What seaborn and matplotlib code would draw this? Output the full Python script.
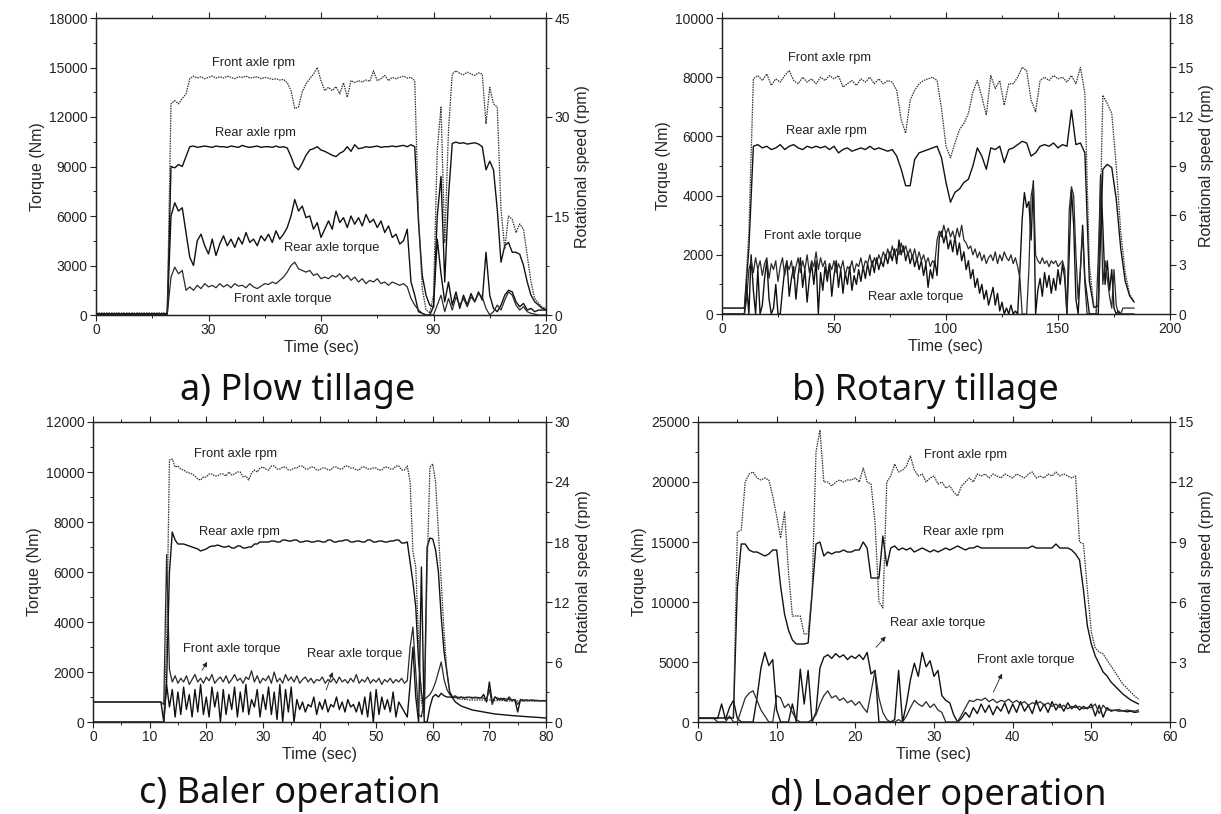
import numpy as np
import matplotlib
matplotlib.use("Agg")
import matplotlib.pyplot as plt
from matplotlib.ticker import MultipleLocator
import seaborn as sns

# ---------------- Panel a: Plow tillage (1 s grid, 0-120 s) ----------------
a_front_rpm = [0.3]*20 + [
    32.0,32.5,32.0,32.8,33.5,35.8,36.2,35.9,36.1,35.8,
    36.0,36.2,35.9,36.1,35.9,36.2,36.0,35.8,36.1,36.0,
    36.2,35.9,36.0,36.1,35.8,36.0,35.9,35.7,35.8,35.6,
    35.7,35.2,34.0,31.3,31.5,33.8,35.0,35.8,36.5,37.5,
    35.5,34.0,34.5,34.0,34.6,33.5,35.2,33.0,35.5,35.2,
    35.5,35.3,35.6,35.4,37.0,35.5,35.8,36.3,35.5,36.0,
    35.8,36.0,36.2,35.9,36.0,35.5,15.0,4.0,0.8,0.3,
    3.0,25.0,31.5,11.0,28.0,36.5,37.0,36.6,36.4,36.8,
    36.5,36.3,36.7,36.5,29.0,34.5,32.0,31.5,16.0,10.0,
    15.0,14.5,12.5,13.8,13.0,9.0,5.0,2.5,1.8,1.2,
    1.0]
a_rear_rpm = [0.2]*20 + [
    22.5,22.3,22.8,22.5,24.0,25.5,25.6,25.4,25.5,25.6,
    25.5,25.4,25.6,25.5,25.5,25.4,25.6,25.5,25.4,25.7,
    25.5,25.4,25.5,25.6,25.4,25.5,25.5,25.4,25.6,25.4,
    25.5,25.3,24.0,22.5,22.0,23.0,24.2,25.0,25.2,25.5,
    25.0,24.8,24.5,24.2,24.0,24.5,24.8,25.5,24.8,25.8,
    25.2,25.3,25.5,25.4,25.5,25.6,25.4,25.5,25.5,25.6,
    25.5,25.6,25.7,25.5,25.8,25.5,14.0,6.0,3.0,1.5,
    1.2,15.0,21.0,5.0,18.0,26.0,26.2,26.0,26.1,25.9,
    26.0,26.1,25.9,25.5,22.0,23.3,22.0,16.0,8.0,10.5,
    11.0,9.5,9.5,9.2,7.5,5.0,3.0,2.0,1.5,1.0,
    0.8]
a_rear_torque = [50]*20 + [
    6000,6800,6300,6500,5000,3500,3000,4500,4900,4200,
    3700,4600,3600,4300,4800,4200,4600,4100,4700,4300,
    5000,4400,4600,4200,4800,4500,4900,4400,5100,4600,
    4900,5300,6000,7000,6300,6600,5900,6000,5200,5600,
    4700,5200,5700,5200,6300,5600,5900,5300,6000,5500,
    5900,5400,6100,5600,5800,5300,5700,5000,5400,4700,
    4900,4300,4500,5200,2000,1200,200,100,0,0,
    500,4600,2500,800,2000,600,1400,400,1200,600,
    1300,800,1400,900,3800,1200,400,200,600,1200,
    1500,1400,800,500,700,300,400,200,300,300,
    300]
a_front_torque = [50]*20 + [
    2300,2900,2500,2700,1500,1700,1500,1800,1600,1900,
    1700,1800,1650,1900,1700,1850,1650,1900,1750,1800,
    1650,1900,1700,1600,1750,1900,1850,2000,1900,2100,
    2300,2600,3000,3200,2800,2700,2600,2700,2400,2500,
    2200,2300,2200,2400,2300,2500,2200,2400,2100,2300,
    2000,2200,1900,2100,2000,2200,1900,2000,1800,2000,
    1900,1800,1900,1700,1000,600,300,100,0,0,
    0,600,1200,200,1000,300,1100,600,1000,500,
    1100,800,1300,1100,400,0,200,600,300,900,
    1400,1200,600,300,500,200,100,50,0,0,
    0]

# ---------------- Panel b: Rotary tillage ----------------
# rpm on a 2 s grid (0-184 s), torque on a 1 s grid (0-184 s)
b_front_rpm = [
    0.36,0.36,0.36,0.36,0.36,0.36,5.0,14.3,14.5,14.2,
    14.6,13.9,14.3,14.1,14.5,14.8,14.2,14.0,14.4,14.1,
    14.3,14.0,14.4,14.2,14.5,14.3,14.5,13.8,14.0,14.2,
    13.9,14.3,14.1,14.4,14.0,14.3,14.0,14.2,14.1,13.6,
    11.8,11.0,13.0,13.6,14.0,14.2,14.3,14.4,14.2,12.5,
    10.2,9.5,10.4,11.2,11.6,12.2,13.5,14.2,13.2,12.1,
    14.5,13.7,14.2,12.7,14.0,14.0,14.4,15.0,14.8,13.0,
    12.3,14.2,14.4,14.2,14.5,14.3,14.4,14.1,14.5,14.0,
    15.0,13.4,3.0,0.4,0.5,13.3,12.8,12.2,9.0,5.0,
    2.5,1.2,0.75]
b_rear_rpm = [
    0.36,0.36,0.36,0.36,0.36,0.36,4.0,10.2,10.3,10.1,
    10.2,10.0,10.1,10.3,10.0,10.2,10.3,10.1,10.0,10.2,
    10.1,10.2,10.1,10.2,10.0,10.2,9.8,10.0,10.1,9.9,
    10.0,10.1,10.0,10.2,10.0,10.1,10.0,9.9,10.0,9.6,
    8.8,7.8,7.8,9.4,9.8,9.9,10.0,10.1,10.2,9.5,
    8.0,6.8,7.4,7.6,8.0,8.2,9.0,10.1,9.6,8.8,
    10.1,10.0,10.2,9.2,10.0,10.1,10.3,10.5,10.4,9.6,
    9.8,10.2,10.3,10.2,10.4,10.1,10.3,10.2,12.4,10.3,
    10.4,9.8,2.0,0.4,0.5,8.8,9.1,8.9,7.0,4.0,
    2.0,1.1,0.72]
b_rear_torque = [0]*10 + [
    0,1000,0,2000,800,0,1500,0,300,1200,
    1800,500,0,200,1000,0,0,800,1500,1800,
    600,1200,1600,500,1300,1900,900,1500,400,1200,
    1700,1000,1800,0,1400,800,1600,1100,1700,600,
    1300,1800,900,1500,700,1400,1000,1600,800,1300,
    1000,1500,1100,1600,1200,1700,1300,1800,1400,1900,
    1500,1800,1600,2000,1700,2100,1800,2200,1700,2500,
    2000,2300,1800,2100,1700,2000,1600,1900,1500,1800,
    1300,1700,900,1500,1200,1800,1300,2600,2800,2400,
    2700,2200,2500,2100,2600,2000,2400,1800,2100,1500,
    1800,1200,1500,900,1200,700,1000,500,800,300,
    600,900,300,700,100,400,0,200,0,300,
    0,100,0,1500,3200,4100,3600,3800,2500,4500,
    0,800,1200,600,1400,900,1300,700,1200,800,
    1500,1000,1700,1200,0,2000,4200,3000,500,0,
    1500,3000,1200,600,0,0,0,0,0,4700,
    3000,1000,1800,800,1500,200,0,100,0,0,
    0,0,0,0,0]
b_front_torque = [0]*10 + [
    0,500,1500,1800,1400,1900,1500,1800,1300,1700,
    1900,1200,1700,1500,1800,1100,1600,1900,1300,1700,
    1500,1800,1200,1600,1900,1400,1800,1500,2000,1400,
    1800,1600,2100,1500,1900,1600,1800,1300,1700,1500,
    1800,1400,1700,1500,1800,1300,1600,1500,1800,1400,
    1700,1600,1900,1500,1800,1700,2000,1600,1900,1700,
    2000,1800,2100,1900,2200,1900,2300,2000,2200,2000,
    2400,2100,2300,2000,2200,1900,2200,1800,2100,1800,
    2000,1700,1900,1600,1800,1700,2500,2800,2600,3000,
    2700,2900,2600,2800,2500,2900,2600,3000,2500,2400,
    2200,2300,2000,2200,1900,2100,1800,2000,1700,1900,
    2000,1800,2100,1700,2000,1800,2100,1900,1800,2000,
    1700,1900,1600,1200,0,0,0,1500,4000,4400,
    2000,1800,1700,1900,1700,1800,1600,1800,1700,1800,
    1600,1700,1800,1500,0,3500,4300,4000,2000,500,
    1500,2800,1000,0,0,0,0,0,2000,4500,
    1000,1800,1200,600,200,1500,300,0,0,200,
    200,200,200,200,200]

# ---------------- Panel c: Baler operation (0.5 s grid, 0-80 s) ----------------
c_front_rpm = [0]*26 + [
    8.0,26.2,26.3,25.5,
    25.6,25.3,25.2,25.0,24.9,24.8,24.6,24.3,24.2,24.5,
    24.5,24.8,24.8,24.6,24.6,24.8,24.8,24.6,25.0,24.7,
    24.8,25.0,25.0,24.5,24.6,24.2,24.9,25.2,25.0,25.4,
    25.5,25.3,25.2,25.6,25.6,25.3,25.3,25.5,25.5,25.2,
    25.2,25.4,25.4,25.6,25.6,25.3,25.3,25.5,25.5,25.2,
    25.2,25.4,25.4,25.2,25.2,25.5,25.5,25.3,25.3,25.6,
    25.6,25.4,25.4,25.2,25.2,25.5,25.5,25.3,25.3,25.4,
    25.4,25.2,25.2,25.5,25.5,25.3,25.3,25.6,25.6,25.2,
    25.2,25.6,24.0,17.0,15.5,8.0,2.0,0.5,15.0,25.5,
    25.8,24.0,19.0,14.0,9.0,5.0,3.0,2.6,2.4,2.3,
    2.3,2.25,2.25,2.2,2.2,2.2,2.2,2.2,2.2,2.2,
    2.2,2.15,2.15,2.15,2.15,2.15,2.1,2.1,2.1,2.1,
    2.1,2.1,2.1,2.1,2.1,2.1,2.1,2.1,2.1,2.1,
    2.1]
c_rear_rpm = [0]*26 + [
    4.0,15.0,19.0,18.2,
    17.8,17.8,17.8,17.7,17.6,17.5,17.4,17.3,17.1,17.2,
    17.3,17.5,17.6,17.6,17.7,17.6,17.5,17.5,17.6,17.4,
    17.4,17.6,17.6,17.4,17.4,17.5,17.5,17.8,17.8,18.0,
    18.0,18.0,18.0,18.1,18.1,18.0,18.0,18.2,18.2,18.1,
    18.1,18.2,18.2,18.0,18.0,18.1,18.1,18.0,18.0,18.1,
    18.1,18.0,18.0,18.2,18.2,18.0,18.0,18.1,18.1,18.2,
    18.2,18.0,18.0,18.1,18.1,18.0,18.0,18.2,18.2,18.0,
    18.0,18.1,18.1,18.0,18.0,18.1,18.1,18.2,18.2,17.9,
    17.9,18.0,16.0,14.0,11.5,6.0,3.0,1.0,17.5,18.4,
    18.3,17.2,15.0,10.5,7.0,5.0,3.0,2.4,2.0,1.8,
    1.6,1.5,1.4,1.3,1.2,1.15,1.1,1.05,1.0,0.95,
    0.9,0.85,0.8,0.78,0.75,0.72,0.7,0.67,0.64,0.62,
    0.6,0.58,0.56,0.54,0.52,0.5,0.48,0.46,0.44,0.42,
    0.4]
c_front_torque = [800]*25 + [
    700,6700,2100,1600,1850,
    1550,1750,1600,1850,1500,1700,1900,1600,1750,1550,
    1800,1650,1900,1550,1700,1800,1600,1850,1550,1700,
    1900,1650,1750,1550,1800,1700,2050,1600,1850,1550,
    1750,1650,1850,1550,2000,1600,1750,1550,1900,1650,
    1800,1600,1850,1550,1700,1800,1600,1750,1550,1700,
    1650,1800,1550,1700,1600,1750,1550,1800,1600,1700,
    1550,1750,1600,1900,1550,1700,1600,1800,1550,1700,
    1600,1750,1500,1700,1600,1750,1550,1700,1600,1750,
    1550,1650,3000,3800,2000,300,200,900,1000,1100,
    1300,1600,2000,2400,1700,1300,1100,1000,1050,950,
    1000,950,1000,980,950,1000,950,980,950,900,
    1300,700,1000,950,900,950,920,900,880,900,
    700,900,880,870,860,880,870,860,850,860,
    850]
c_rear_torque = [800]*25 + [
    0,1500,600,1300,200,
    1200,300,1400,500,1100,200,1300,400,1500,300,
    1000,200,1400,600,1200,0,1300,300,1100,500,
    1400,200,1200,400,1500,300,900,600,1300,200,
    1100,500,1400,300,1200,100,1500,0,1300,400,
    1400,0,900,500,800,400,700,600,1000,300,
    800,500,900,400,700,600,1000,500,800,400,
    900,600,700,400,800,300,1000,200,1200,0,
    1300,300,1000,500,900,400,1200,200,800,600,
    400,200,1500,3000,1000,0,6200,0,0,600,
    1000,1100,1000,1150,1050,1000,1000,980,1000,980,
    990,980,970,990,980,970,980,960,1100,800,
    1600,800,1000,900,950,900,850,1000,850,900,
    400,900,850,880,860,870,850,860,850,850,
    850]

# ---------------- Panel d: Loader operation (0.5 s grid, 0-56 s) ----------------
d_front_rpm = [0.2]*10 + [
    9.5,9.6,12.0,12.4,12.5,12.2,12.1,12.2,12.1,11.3,
    10.3,9.2,10.5,7.5,5.3,5.3,5.3,4.4,4.4,6.5,
    13.5,14.6,12.0,12.0,11.8,12.0,12.1,12.0,12.1,12.1,
    12.2,12.0,12.7,12.0,11.9,10.0,6.0,5.7,12.0,12.3,
    12.9,12.5,12.6,12.8,13.3,12.6,12.3,12.4,12.0,12.2,
    12.3,11.9,12.0,11.7,11.8,11.5,11.3,11.8,12.0,12.2,
    12.0,12.4,12.3,12.4,12.2,12.4,12.3,12.2,12.4,12.3,
    12.2,12.4,12.3,12.2,12.4,12.5,12.2,12.3,12.2,12.4,
    12.3,12.5,12.3,12.4,12.3,12.2,12.3,9.0,8.9,6.6,
    4.5,3.7,3.5,3.4,3.1,2.8,2.5,2.2,1.9,1.7,
    1.5,1.3,1.15]
d_rear_rpm = [0.2]*10 + [
    6.7,8.9,8.9,8.6,8.5,8.5,8.4,8.3,8.4,8.6,
    8.6,6.8,5.4,4.6,4.1,3.9,3.9,3.9,3.95,6.4,
    8.9,9.0,8.3,8.5,8.4,8.5,8.5,8.6,8.5,8.5,
    8.6,8.6,9.0,8.7,7.2,7.2,7.2,9.3,7.8,8.7,
    8.8,8.6,8.7,8.6,8.7,8.5,8.6,8.7,8.6,8.5,
    8.6,8.5,8.6,8.7,8.6,8.7,8.8,8.7,8.6,8.7,
    8.7,8.8,8.7,8.7,8.7,8.7,8.7,8.7,8.7,8.7,
    8.7,8.7,8.7,8.7,8.7,8.8,8.7,8.7,8.7,8.7,
    8.7,8.9,8.7,8.7,8.7,8.6,8.4,8.1,6.6,4.8,
    3.9,3.3,2.9,2.5,2.3,2.0,1.8,1.6,1.4,1.25,
    1.1,1.0,0.9]
d_rear_torque = [
    300,300,300,300,300,300,1500,200,1200,1800,
    300,0,0,0,0,2000,4500,5800,4700,5200,
    1000,0,0,0,1500,0,4400,1500,4300,0,
    800,4500,5400,5600,5300,5700,5400,5600,5200,5500,
    5300,5600,5200,5800,4000,4300,0,0,0,0,
    200,4300,0,1500,3500,4900,3800,5800,4600,5100,
    3800,4300,2200,1800,1600,600,0,300,800,400,
    1200,700,1500,800,1400,600,1300,900,1600,700,
    1500,800,1700,900,1400,700,1800,900,1500,800,
    1700,1000,1500,900,1600,1100,1400,1000,1300,1100,
    1500,500,1400,400,1200,900,1000,900,950,850,
    900,800,850]
d_front_torque = [
    300,300,300,300,300,0,0,0,500,0,
    0,1000,2000,2400,2600,1800,1000,500,0,0,
    2200,2000,1200,1500,800,200,0,0,0,200,
    600,1500,2200,2600,2000,2200,1800,2000,1600,1800,
    1400,1700,1200,800,2500,4300,2000,800,200,0,
    0,200,0,500,1200,1800,1500,1300,1700,1200,
    1500,1000,800,0,0,0,0,600,1200,1800,
    1700,1900,1800,2000,1700,1900,1600,1800,1700,1900,
    1600,1800,1500,1700,1400,1600,1500,1700,1400,1600,
    1300,1500,1200,1400,1100,1300,1200,1300,1100,1200,
    1200,1500,700,1400,1000,1000,950,1050,900,1000,
    950,900,1000]

titles = ["a) Plow tillage", "b) Rotary tillage", "c) Baler operation", "d) Loader operation"]

sns.set_theme(style="ticks")
plt.rcParams["font.family"] = ["Liberation Sans", "DejaVu Sans"]

W, H = 1221, 814
fig = plt.figure(figsize=(W / 100, H / 100), dpi=100)
fig.patch.set_facecolor("white")


def frac(l, r, t, b):
    return [l / W, 1 - b / H, (r - l) / W, (b - t) / H]


panels = [
    dict(rect=frac(96, 546, 18, 315), xmax=120, xmaj=30, xmin=15, ymax=18000, ymaj=3000, ymin=1500,
         rmax=45, rmaj=15, rmin=7.5,
         t_rpm=np.arange(0, 120.5, 1), t_tq=np.arange(0, 120.5, 1),
         fr=a_front_rpm, rr=a_rear_rpm, ft=a_front_torque, rt=a_rear_torque,
         title_xy=(298, 391)),
    dict(rect=frac(722, 1170, 18, 314), xmax=200, xmaj=50, xmin=25, ymax=10000, ymaj=2000, ymin=1000,
         rmax=18, rmaj=3, rmin=1.5,
         t_rpm=np.arange(0, 184.5, 2), t_tq=np.arange(0, 184.5, 1),
         fr=b_front_rpm, rr=b_rear_rpm, ft=b_front_torque, rt=b_rear_torque,
         title_xy=(925, 391)),
    dict(rect=frac(93, 546, 422, 722), xmax=80, xmaj=10, xmin=5, ymax=12000, ymaj=2000, ymin=1000,
         rmax=30, rmaj=6, rmin=3,
         t_rpm=np.arange(0, 80.25, 0.5), t_tq=np.arange(0, 80.25, 0.5),
         fr=c_front_rpm, rr=c_rear_rpm, ft=c_front_torque, rt=c_rear_torque,
         title_xy=(290, 794)),
    dict(rect=frac(698, 1170, 422, 722), xmax=60, xmaj=10, xmin=5, ymax=25000, ymaj=5000, ymin=2500,
         rmax=15, rmaj=3, rmin=1.5,
         t_rpm=np.arange(0, 56.25, 0.5), t_tq=np.arange(0, 56.25, 0.5),
         fr=d_front_rpm, rr=d_rear_rpm, ft=d_front_torque, rt=d_rear_torque,
         title_xy=(938, 796)),
]

# annotation texts (x, y in data units of torque axis)
labels = [
    [("Front axle rpm", 42, 15250), ("Rear axle rpm", 42.4, 11050),
     ("Rear axle torque", 62.8, 4080), ("Front axle torque", 49.8, 990)],
    [("Front axle rpm", 48, 8650), ("Rear axle rpm", 46.5, 6180),
     ("Front axle torque", 40.5, 2640), ("Rear axle torque", 86.5, 580)],
    [("Front axle rpm", 25.1, 10700), ("Rear axle rpm", 25.9, 7600),
     ("Front axle torque", 24.5, 2920), ("Rear axle torque", 46.2, 2720)],
    [("Front axle rpm", 34.0, 22270), ("Rear axle rpm", 33.8, 15860),
     ("Rear axle torque", 30.5, 8280), ("Front axle torque", 41.7, 5130)],
]
arrows = [
    [], [],
    [((19.0, 1970), (20.4, 2500)), ((41.0, 1170), (42.5, 2100))],
    [((22.4, 6050), (24.1, 7300)), ((37.4, 2290), (38.8, 4240))],
]

for i, p in enumerate(panels):
    ax = fig.add_axes(p["rect"])
    ax2 = ax.twinx()
    sns.lineplot(x=p["t_tq"], y=p["rt"], ax=ax, color="#111111", lw=1.0, estimator=None, sort=False, legend=False)
    sns.lineplot(x=p["t_tq"], y=p["ft"], ax=ax, color="#2a2a2a", lw=0.9, estimator=None, sort=False, legend=False)
    sns.lineplot(x=p["t_rpm"], y=p["rr"], ax=ax2, color="#111111", lw=1.0, estimator=None, sort=False, legend=False)
    sns.lineplot(x=p["t_rpm"], y=p["fr"], ax=ax2, color="#333333", lw=0.9, linestyle=(0, (1.2, 0.8)),
                 estimator=None, sort=False, legend=False)

    ax.set_xlim(0, p["xmax"])
    ax.set_ylim(0, p["ymax"])
    ax2.set_ylim(0, p["rmax"])
    ax.xaxis.set_major_locator(MultipleLocator(p["xmaj"]))
    ax.xaxis.set_minor_locator(MultipleLocator(p["xmin"]))
    ax.yaxis.set_major_locator(MultipleLocator(p["ymaj"]))
    ax.yaxis.set_minor_locator(MultipleLocator(p["ymin"]))
    ax2.yaxis.set_major_locator(MultipleLocator(p["rmaj"]))
    ax2.yaxis.set_minor_locator(MultipleLocator(p["rmin"]))

    ax.tick_params(axis="x", which="both", direction="out", top=True, labeltop=False, labelsize=10,
                   colors="#222222", pad=2)
    ax.tick_params(axis="y", which="both", direction="out", labelsize=10, colors="#222222", pad=2)
    ax.tick_params(which="major", length=4, width=0.8)
    ax.tick_params(which="minor", length=2.5, width=0.7)
    ax2.tick_params(axis="y", which="both", direction="out", labelsize=10, colors="#222222", pad=2)
    ax2.tick_params(which="major", length=4, width=0.8)
    ax2.tick_params(which="minor", length=2.5, width=0.7)
    for a in (ax, ax2):
        for s in a.spines.values():
            s.set_visible(True)
            s.set_linewidth(0.9)
            s.set_color("#222222")

    ax.set_xlabel("Time (sec)", fontsize=11.5, labelpad=2)
    ax.set_ylabel("Torque (Nm)", fontsize=11.5, labelpad=3)
    ax2.set_ylabel("Rotational speed (rpm)", fontsize=11.5, labelpad=4)

    for txt, x, y in labels[i]:
        ax.text(x, y, txt, fontsize=9.3, ha="center", va="center", color="#222222")
    for (x0, y0), (x1, y1) in arrows[i]:
        ax.annotate("", xy=(x1, y1), xytext=(x0, y0),
                    arrowprops=dict(arrowstyle="-|>", color="#222222", lw=0.6, mutation_scale=7))

    tx, ty = p["title_xy"]
    fig.text(tx / W, 1 - ty / H, titles[i], fontsize=26, ha="center", va="center",
             family=["Noto Sans", "DejaVu Sans"], color="#111111")

fig.savefig("out.png", dpi=100, facecolor="white")
